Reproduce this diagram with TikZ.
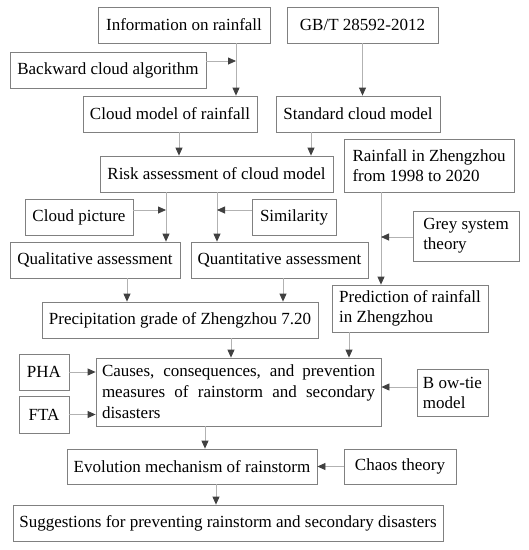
\documentclass[tikz,border=0pt]{standalone}
\usepackage{fontspec}
\setmainfont{Liberation Serif}
\usetikzlibrary{arrows.meta}

\begin{document}
\begin{tikzpicture}[x=1pt,y=-1pt]
\tikzstyle{box}=[
  draw=black!50,
  line width=0.8pt,
  rectangle,
  inner sep=0pt,
  font=\fontsize{17}{20}\selectfont ]
\tikzstyle{link}=[
  draw=black!30,
  line width=0.8pt,
  -{Triangle[length=8pt,width=7pt,color=black!75]} ]
\useasboundingbox (0,0) rectangle (529,550);
% first row
\node[box,minimum width=172pt,minimum height=36pt] (info) at (184,25) {Information on rainfall};
\node[box,minimum width=151pt,minimum height=36pt] (gbt) at (362.5,25) {GB/T 28592-2012};
\node[box,minimum width=196pt,minimum height=36pt] (backward) at (108,70) {Backward cloud algorithm};
\node[box,minimum width=174pt,minimum height=36pt] (cloudmodel) at (170,114) {Cloud model of rainfall};
\node[box,minimum width=164pt,minimum height=36pt] (standard) at (358,114) {Standard cloud model};
% assessment
\node[box,minimum width=233pt,minimum height=36pt] (risk) at (216.5,174) {Risk assessment of cloud model};
\node[box,minimum width=170pt,minimum height=53pt,align=left] (rainzz) at (429,165.5) {Rainfall in Zhengzhou\\from 1998 to 2020};
\node[box,minimum width=108pt,minimum height=36pt] (cloudpic) at (79,217) {Cloud picture};
\node[box,minimum width=84pt,minimum height=36pt] (similarity) at (294,217) {Similarity};
\node[box,minimum width=170pt,minimum height=36pt] (quali) at (95,260) {Qualitative assessment};
\node[box,minimum width=177pt,minimum height=36pt] (quanti) at (279.5,260) {Quantitative assessment};
\node[box,minimum width=106pt,minimum height=50pt,align=left] (grey) at (466,236) {Grey system\\theory};
\node[box,minimum width=276pt,minimum height=36pt] (precip) at (180,320) {Precipitation grade of Zhengzhou 7.20};
\node[box,minimum width=156pt,minimum height=47pt,align=left] (predict) at (410,308.5) {Prediction of rainfall\\in Zhengzhou};
% causes
\node[box,minimum width=285pt,minimum height=68pt,text width=273pt,align=justify,
  font=\fontsize{17}{21}\selectfont] (causes) at (238.5,392)
  {Causes, consequences, and prevention\linebreak measures of rainstorm and secondary\linebreak disasters};
\node[box,minimum width=50pt,minimum height=36pt] (pha) at (44,372) {PHA};
\node[box,minimum width=50pt,minimum height=37pt] (fta) at (44,414.5) {FTA};
\node[box,minimum width=71pt,minimum height=47pt,align=left] (bowtie) at (452.5,392.5) {B ow-tie\\model};
\node[box,minimum width=250pt,minimum height=35pt] (evolution) at (192,466.5) {Evolution mechanism of rainstorm};
\node[box,minimum width=112pt,minimum height=35pt] (chaos) at (400,466.5) {Chaos theory};
\node[box,minimum width=430pt,minimum height=36pt] (suggest) at (228,523) {Suggestions for preventing rainstorm and secondary disasters};
% junctions
\coordinate (jinfo) at (236,61);
\coordinate (jcloud) at (179,0);
\coordinate (jstd) at (311,0);
\coordinate (jquali) at (166,210);
\coordinate (jquanti) at (217,210);
\coordinate (jrain) at (381,237);
\coordinate (jq1) at (127,0);
\coordinate (jq2) at (283,0);
\coordinate (jprec) at (231,0);
\coordinate (jpred) at (349,0);
\coordinate (jbow) at (0,387);
\coordinate (jcause) at (205,0);
\coordinate (jevol) at (216,0);
% connectors
\draw[link] (info.south -| jinfo) -- (cloudmodel.north -| jinfo);
\draw[link] (backward.east |- jinfo) -- (jinfo);
\draw[link] (gbt.south) -- (standard.north -| gbt.south);
\draw[link] (cloudmodel.south -| jcloud) -- (risk.north -| jcloud);
\draw[link] (standard.south -| jstd) -- (risk.north -| jstd);
\draw[link] (risk.south -| jquali) -- (quali.north -| jquali);
\draw[link] (cloudpic.east |- jquali) -- (jquali);
\draw[link] (risk.south -| jquanti) -- (quanti.north -| jquanti);
\draw[link] (similarity.west |- jquanti) -- (jquanti);
\draw[link] (rainzz.south -| jrain) -- (predict.north -| jrain);
\draw[link] (grey.west |- jrain) -- (jrain);
\draw[link] (quali.south -| jq1) -- (precip.north -| jq1);
\draw[link] (quanti.south -| jq2) -- (precip.north -| jq2);
\draw[link] (precip.south -| jprec) -- (causes.north -| jprec);
\draw[link] (predict.south -| jpred) -- (causes.north -| jpred);
\draw[link] (pha.east) -- (causes.west |- pha.east);
\draw[link] (fta.east) -- (causes.west |- fta.east);
\draw[link] (bowtie.west |- jbow) -- (causes.east |- jbow);
\draw[link] (causes.south -| jcause) -- (evolution.north -| jcause);
\draw[link] (chaos.west) -- (evolution.east);
\draw[link] (evolution.south -| jevol) -- (suggest.north -| jevol);
\end{tikzpicture}
\end{document}
